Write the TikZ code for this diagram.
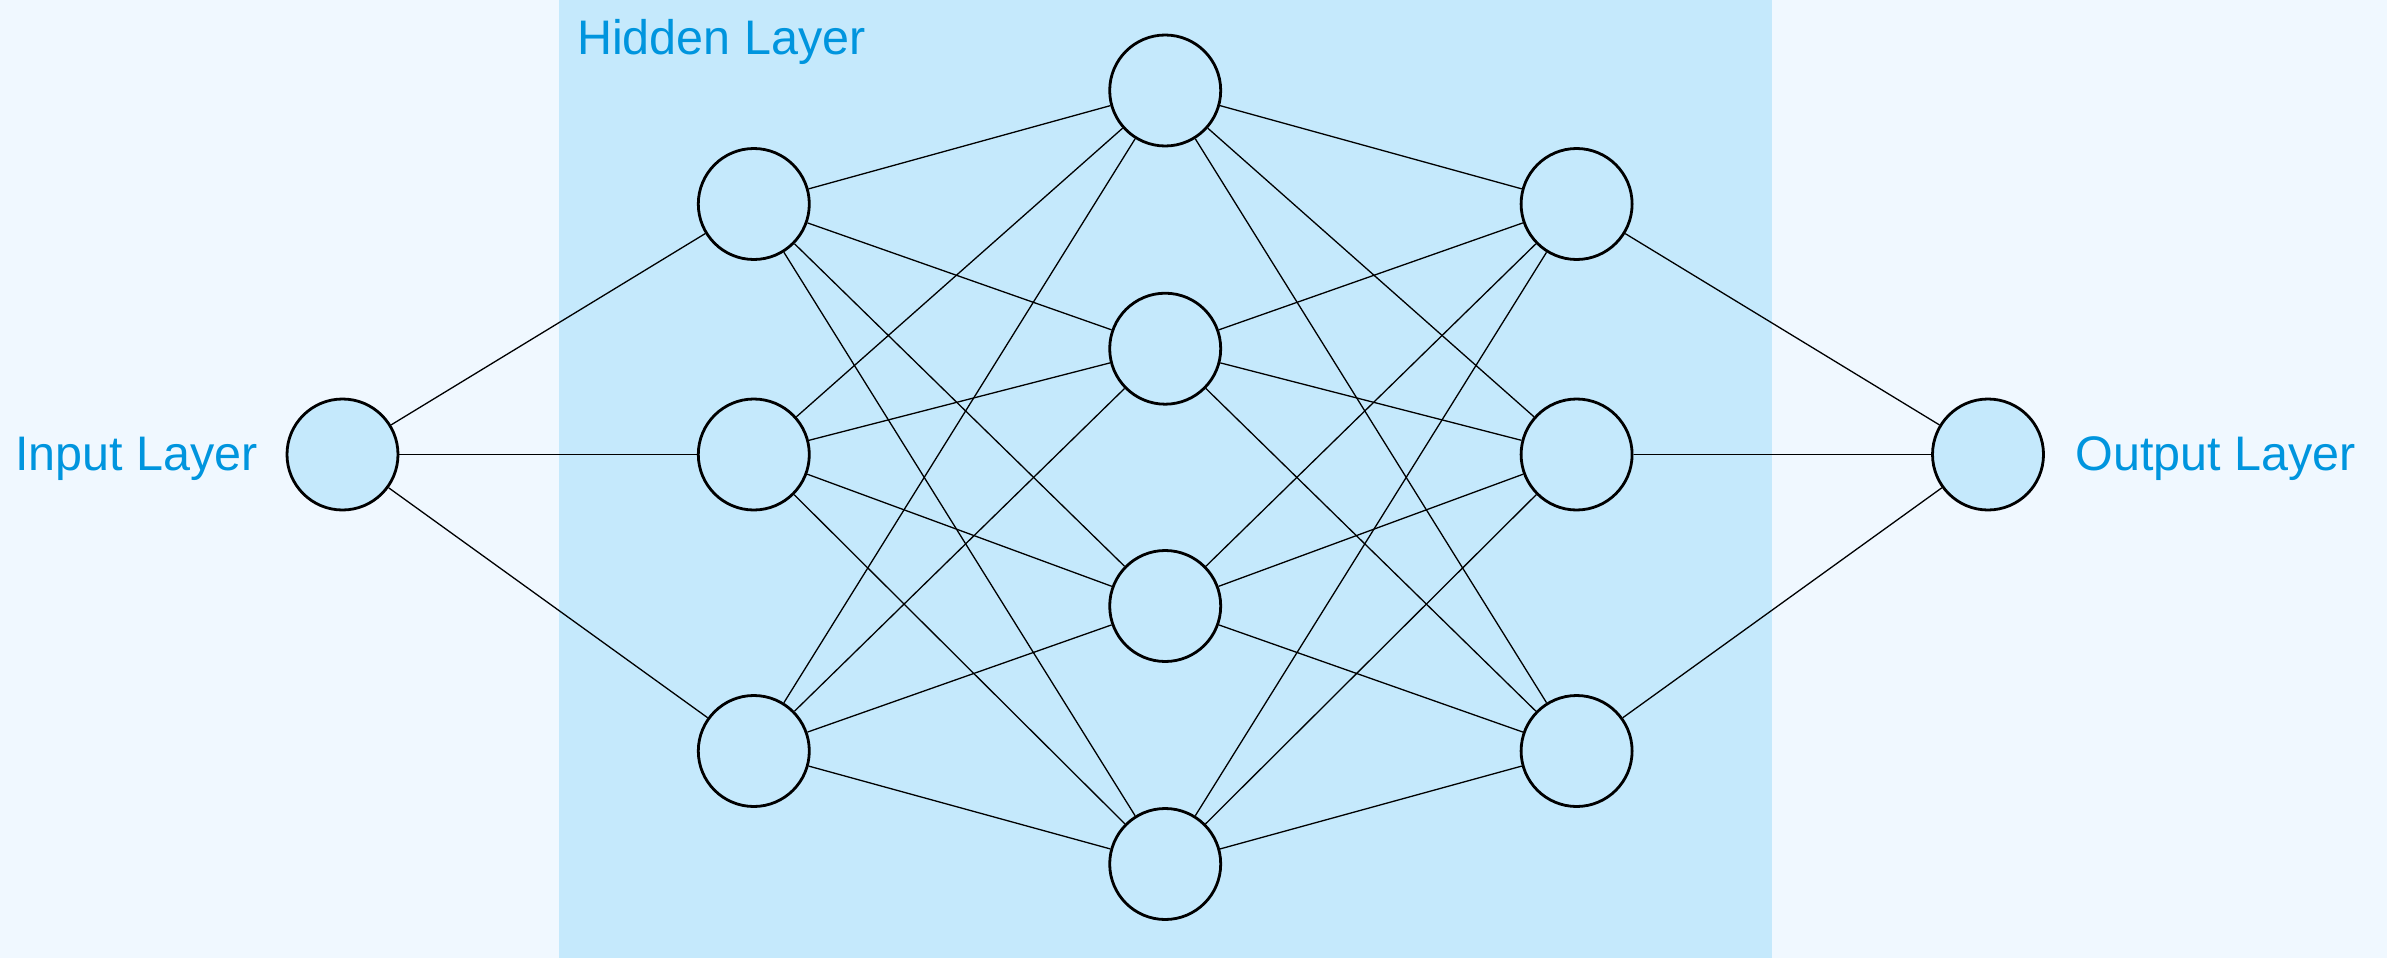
\documentclass[tikz,border=0pt]{standalone}
\usepackage{fontspec}
\setmainfont{Liberation Sans}
\definecolor{pagebg}{HTML}{F0F8FF}
\definecolor{bandbg}{HTML}{C5E9FC}
\definecolor{labelblue}{HTML}{0095DE}
\begin{document}
\begin{tikzpicture}[x=1pt,y=-1pt,
  neuron/.style={circle,draw=black,line width=2.8pt,fill=bandbg,minimum size=111pt,inner sep=0pt},
  link/.style={draw=black,line width=1.3pt},
  layerlabel/.style={font=\fontsize{48.5}{58}\selectfont,text=labelblue,inner sep=0pt,anchor=base west}]
  % page and hidden band
  \fill[pagebg] (0,0) rectangle (2387,958);
  \fill[bandbg] (559,0) rectangle (1772,958);
  \useasboundingbox (0,0) rectangle (2387,958);

  % neurons
  \node[neuron] (in) at (342.5,454.5) {};
  \node[neuron] (a1) at (753.8,204) {};
  \node[neuron] (a2) at (753.8,454.5) {};
  \node[neuron] (a3) at (753.8,751) {};
  \node[neuron] (b1) at (1165.2,90.5) {};
  \node[neuron] (b2) at (1165.2,348.7) {};
  \node[neuron] (b3) at (1165.2,606) {};
  \node[neuron] (b4) at (1165.2,864) {};
  \node[neuron] (c1) at (1576.6,204) {};
  \node[neuron] (c2) at (1576.6,454.5) {};
  \node[neuron] (c3) at (1576.6,751) {};
  \node[neuron] (out) at (1988,454.5) {};

  % connections
  \foreach \j in {1,2,3} \draw[link] (in) -- (a\j);
  \foreach \i in {1,2,3} \foreach \j in {1,2,3,4} \draw[link] (a\i) -- (b\j);
  \foreach \i in {1,2,3,4} \foreach \j in {1,2,3} \draw[link] (b\i) -- (c\j);
  \foreach \i in {1,2,3} \draw[link] (c\i) -- (out);

  % labels
  \node[layerlabel] (lin) at (15,470) {Input Layer};
  \node[layerlabel] (lhid) at (577,55) {Hidden Layer};
  \node[layerlabel] (lout) at (2075.5,470) {Output Layer};
\end{tikzpicture}
\end{document}
